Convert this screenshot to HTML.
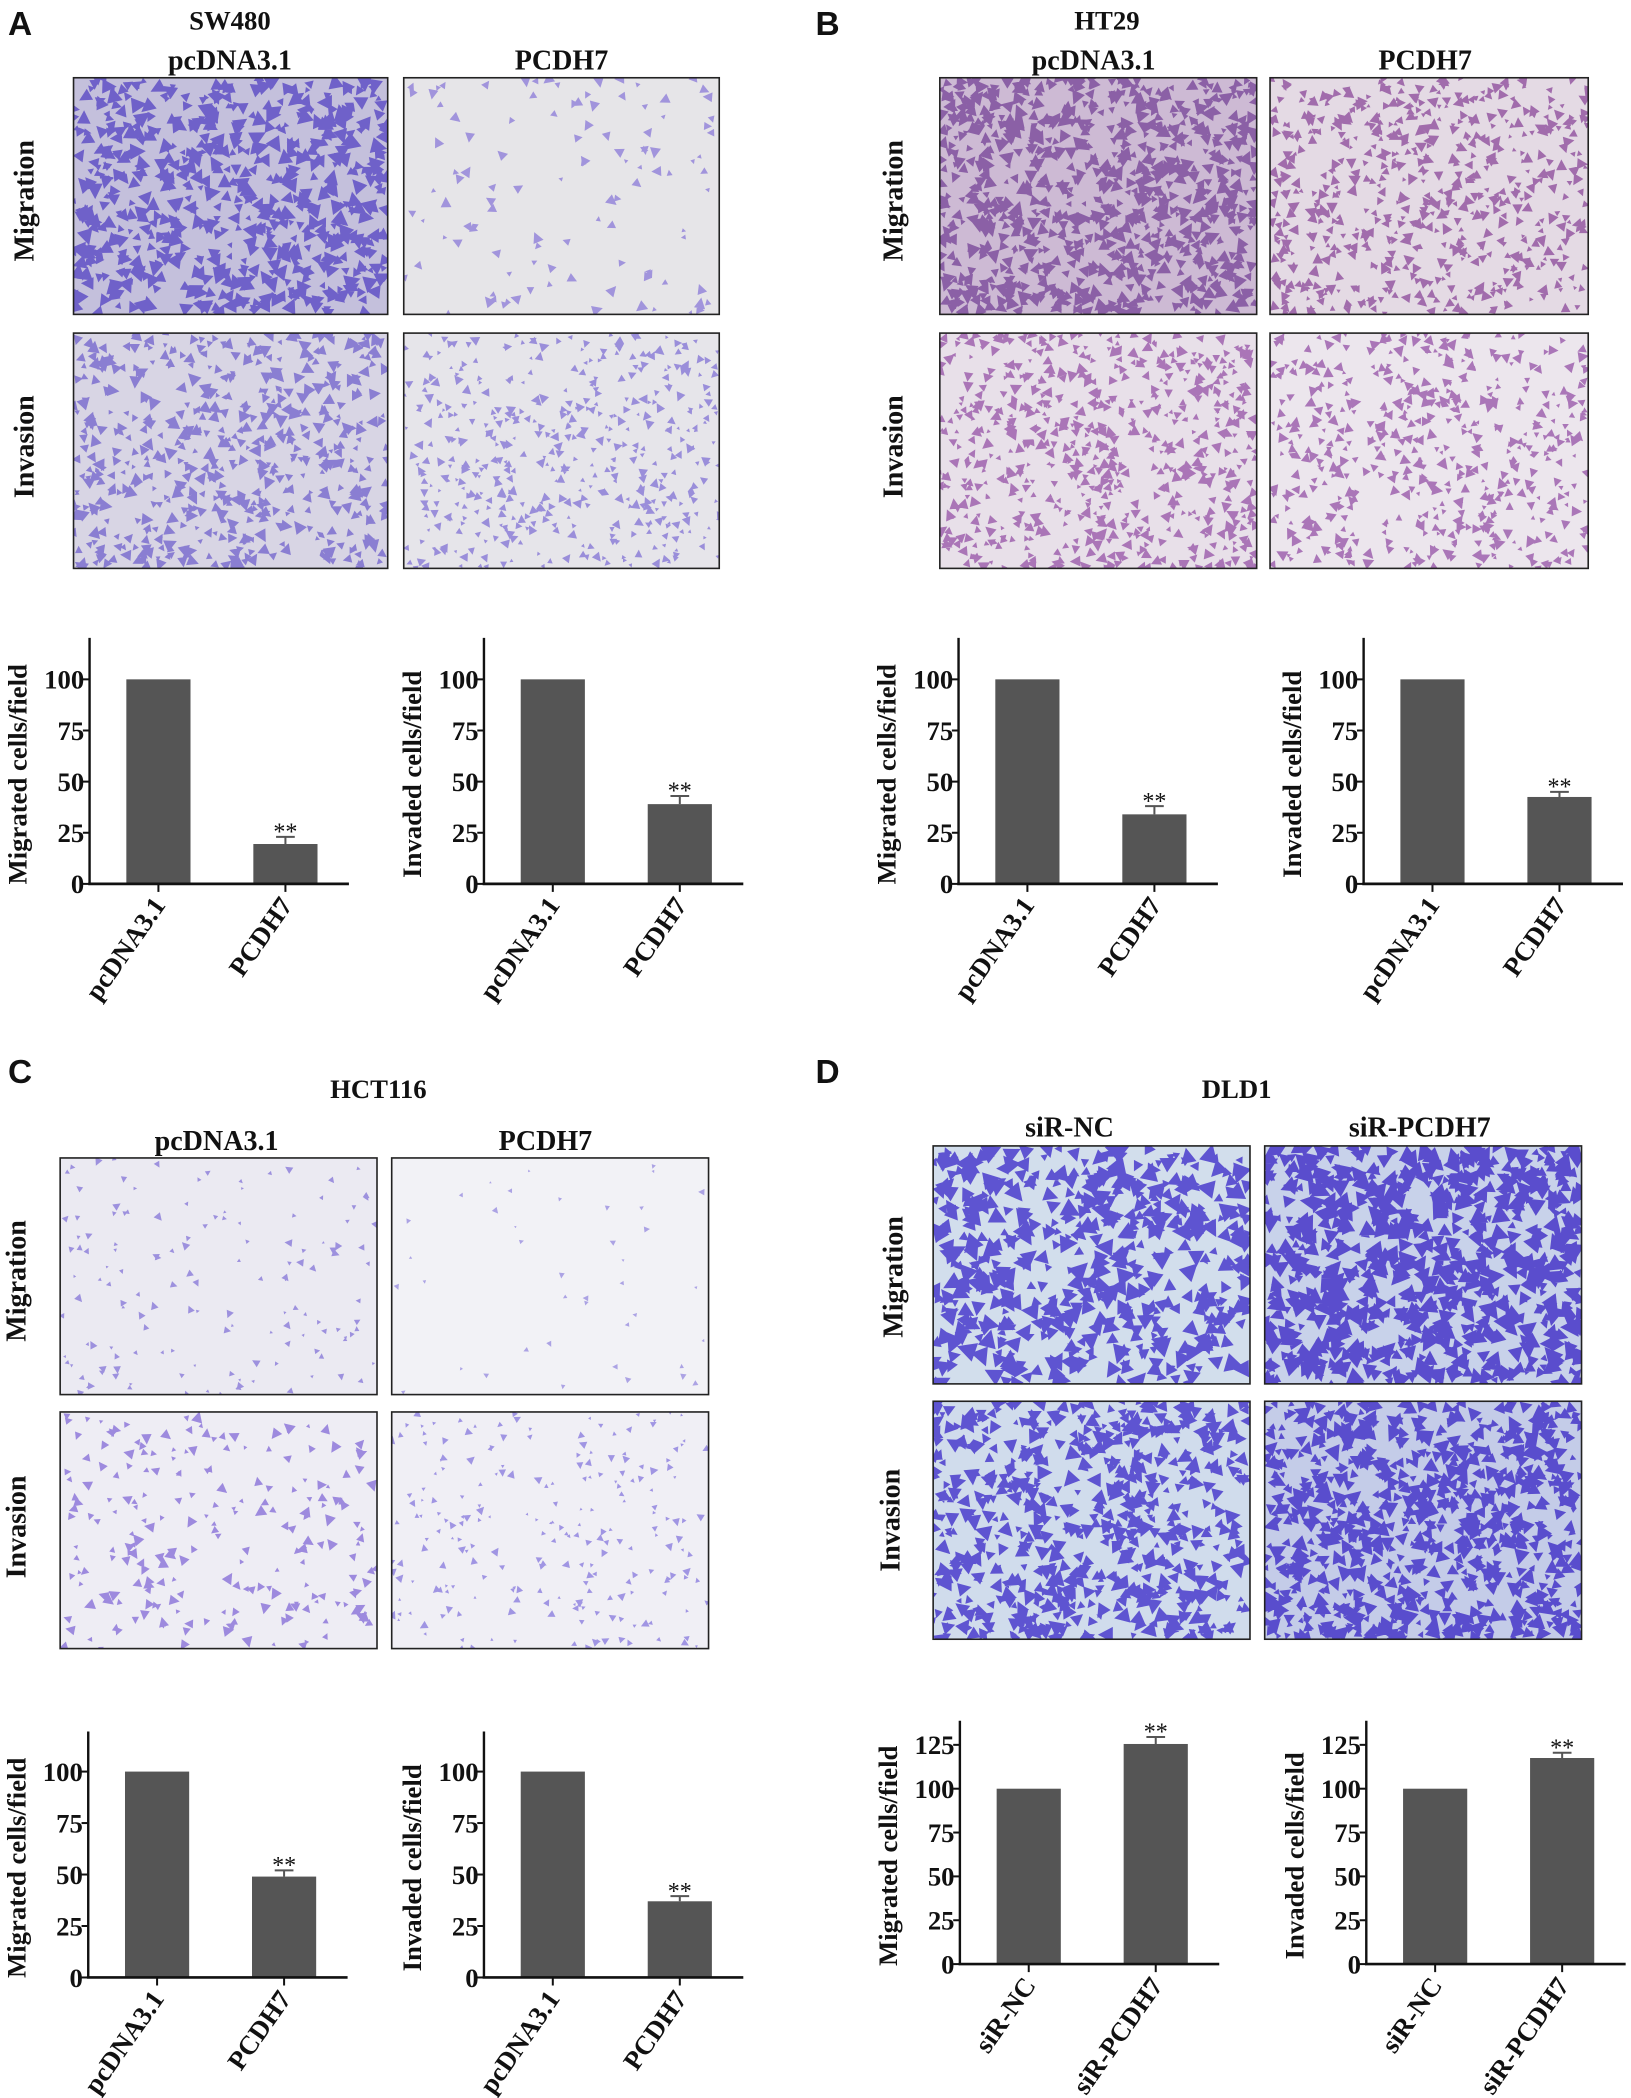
<!DOCTYPE html>
<html><head><meta charset="utf-8"><style>
html,body{margin:0;padding:0;background:#fff}
svg{display:block}
text{font-family:"Liberation Serif",serif;font-weight:bold;fill:#111}
.lt{font-family:"Liberation Sans",sans-serif;font-weight:bold}
</style></head><body>
<svg id="fig" width="1631" height="2098" viewBox="0 0 1220 1569" xmlns="http://www.w3.org/2000/svg">
<g id="static">
<text class="lt" x="6" y="26" font-size="25">A</text>
<text class="lt" x="610" y="26" font-size="25">B</text>
<text class="lt" x="6" y="810" font-size="25">C</text>
<text class="lt" x="610" y="810" font-size="25">D</text>
<text x="172" y="22" font-size="20" text-anchor="middle">SW480</text>
<text x="828" y="22" font-size="20" text-anchor="middle">HT29</text>
<text x="283" y="821" font-size="20" text-anchor="middle">HCT116</text>
<text x="925" y="821" font-size="20" text-anchor="middle">DLD1</text>
<text x="172" y="52" font-size="21" text-anchor="middle">pcDNA3.1</text>
<text x="420" y="52" font-size="21" text-anchor="middle">PCDH7</text>
<text x="818" y="52" font-size="21" text-anchor="middle">pcDNA3.1</text>
<text x="1066" y="52" font-size="21" text-anchor="middle">PCDH7</text>
<text x="162" y="860" font-size="21" text-anchor="middle">pcDNA3.1</text>
<text x="408" y="860" font-size="21" text-anchor="middle">PCDH7</text>
<text x="800" y="850" font-size="21" text-anchor="middle">siR-NC</text>
<text x="1062" y="850" font-size="21" text-anchor="middle">siR-PCDH7</text>
<text transform="translate(25,150) rotate(-90)" font-size="21" text-anchor="middle">Migration</text>
<text transform="translate(25,334) rotate(-90)" font-size="21" text-anchor="middle">Invasion</text>
<text transform="translate(675,150) rotate(-90)" font-size="21" text-anchor="middle">Migration</text>
<text transform="translate(675,334) rotate(-90)" font-size="21" text-anchor="middle">Invasion</text>
<text transform="translate(19,958) rotate(-90)" font-size="21" text-anchor="middle">Migration</text>
<text transform="translate(19,1142) rotate(-90)" font-size="21" text-anchor="middle">Invasion</text>
<text transform="translate(675,955) rotate(-90)" font-size="21" text-anchor="middle">Migration</text>
<text transform="translate(673,1137) rotate(-90)" font-size="21" text-anchor="middle">Invasion</text>
</g>
<g id="imgs"></g>
<g id="charts"></g>
</svg>
<script>
// ---- chart data ----
const catsOE = ["pcDNA3.1", "PCDH7"];
const catsKD = ["siR-NC", "siR-PCDH7"];
const ticksOE = [0, 25, 50, 75, 100];
const ticksKD = [0, 25, 50, 75, 100, 125];
const swMigVals = [100, 19.5];
const swMigErr = [0, 3.5];
const swInvVals = [100, 39];
const swInvErr = [0, 4];
const htMigVals = [100, 34];
const htMigErr = [0, 4];
const htInvVals = [100, 42.5];
const htInvErr = [0, 2.5];
const hcMigVals = [100, 49];
const hcMigErr = [0, 3];
const hcInvVals = [100, 37];
const hcInvErr = [0, 2.5];
const dlMigVals = [100, 125.5];
const dlMigErr = [0, 4];
const dlInvVals = [100, 117.5];
const dlInvErr = [0, 3];
const sigMarks = ["", "**"];

const NS = "http://www.w3.org/2000/svg";
function mk(tag, attrs, parent) {
  const e = document.createElementNS(NS, tag);
  for (const k in attrs) e.setAttribute(k, attrs[k]);
  parent.appendChild(e);
  return e;
}
const chartsG = document.getElementById('charts');

function chart(id, ax, base, top, pxPer, ticks, yMax, cats, vals, errs, ytitle) {
  const g = mk('g', {}, chartsG);
  
  
  const y = v => base - v * pxPer;
  const step = 95, start = ax + 4;
  const xc = i => start + step * (i + 0.5);
  const bw = 48;
  vals.forEach((v, i) => {
    const b = mk('rect', {x: xc(i) - bw / 2, y: y(v), width: bw, height: base - y(v), fill: '#555555'}, g);
    
    
    if (errs[i] > 0) {
      const e = mk('path', {d: `M${xc(i)} ${y(v)}V${y(v + errs[i])}M${xc(i) - 7} ${y(v + errs[i])}H${xc(i) + 7}`, stroke: '#555', 'stroke-width': 1.5, fill: 'none'}, g);
      
      
    }
    if (sigMarks[i]) {
      const s = mk('text', {x: xc(i), y: y(v + errs[i]) + 2, 'text-anchor': 'middle', 'font-size': 18, style: 'font-weight:normal'}, g);
      s.textContent = sigMarks[i];
      
      
    }
    const xt = mk('line', {x1: xc(i), x2: xc(i), y1: base, y2: base + 6, stroke: '#111', 'stroke-width': 1.5}, g);
    
    
    const lx = xc(i) + 6, ly = base + 16;
    const xl = mk('text', {transform: `translate(${lx},${ly}) rotate(-55)`, 'text-anchor': 'end', 'font-size': 20}, g);
    xl.textContent = cats[i];
    
    
  });
  const ya = mk('line', {x1: ax, x2: ax, y1: top, y2: base, stroke: '#111', 'stroke-width': 1.8}, g);
  
  
  const xa = mk('line', {x1: ax - 1, x2: ax + 194, y1: base, y2: base, stroke: '#111', 'stroke-width': 2}, g);
  
  
  ticks.forEach(t => {
    const tl = mk('line', {x1: ax - 5, x2: ax, y1: y(t), y2: y(t), stroke: '#111', 'stroke-width': 1.5}, g);
    
    
    const tt = mk('text', {x: ax - 4, y: y(t) + 7, 'text-anchor': 'end', 'font-size': 20}, g);
    tt.textContent = t;
    
    
  });
  const yt = mk('text', {transform: `translate(${ax - 47},${(top + base) / 2 + 10}) rotate(-90)`, 'text-anchor': 'middle', 'font-size': 20}, g);
  yt.textContent = ytitle;
  
  
}
const pOE = 38.25 / 25;
chart('chart-sw480-migration', 67, 661, 477, pOE, ticksOE, 120, catsOE, swMigVals, swMigErr, 'Migrated cells/field');
chart('chart-sw480-invasion', 362, 661, 477, pOE, ticksOE, 120, catsOE, swInvVals, swInvErr, 'Invaded cells/field');
chart('chart-ht29-migration', 717, 661, 477, pOE, ticksOE, 120, catsOE, htMigVals, htMigErr, 'Migrated cells/field');
chart('chart-ht29-invasion', 1020, 661, 477, pOE, ticksOE, 120, catsOE, htInvVals, htInvErr, 'Invaded cells/field');
const pC = 38.5 / 25;
chart('chart-hct116-migration', 66, 1479, 1295, pC, ticksOE, 120, catsOE, hcMigVals, hcMigErr, 'Migrated cells/field');
chart('chart-hct116-invasion', 362, 1479, 1295, pC, ticksOE, 120, catsOE, hcInvVals, hcInvErr, 'Invaded cells/field');
const pD = 32.8 / 25;
chart('chart-dld1-migration', 718, 1469, 1287, pD, ticksKD, 140, catsKD, dlMigVals, dlMigErr, 'Migrated cells/field');
chart('chart-dld1-invasion', 1022, 1469, 1287, pD, ticksKD, 140, catsKD, dlInvVals, dlInvErr, 'Invaded cells/field');

// ---- micrograph textures (decorative) ----
const imgsG = document.getElementById('imgs');
let seed = 7;
function rnd() { seed = (seed * 16807) % 2147483647; return seed / 2147483647; }
function micro(name, x, y, w, h, bg, fg, n, r, op) {
  const g = mk('g', {}, imgsG);
  
  
  const cid = 'c' + name;
  const cp = mk('clipPath', {id: cid}, g);
  mk('rect', {x: x, y: y, width: w, height: h}, cp);
  mk('rect', {x: x, y: y, width: w, height: h, fill: bg}, g);
  const inner = mk('g', {'clip-path': `url(#${cid})`}, g);
  let d = '';
  for (let i = 0; i < n; i++) {
    const cx = x + rnd() * w, cy = y + rnd() * h;
    const rr = r * (0.5 + rnd());
    const a = rnd() * 6.28;
    d += `M${(cx + rr * Math.cos(a)).toFixed(1)} ${(cy + rr * Math.sin(a)).toFixed(1)}L${(cx + rr * Math.cos(a + 2.2)).toFixed(1)} ${(cy + rr * Math.sin(a + 2.2)).toFixed(1)}L${(cx + rr * Math.cos(a + 4.1)).toFixed(1)} ${(cy + rr * Math.sin(a + 4.1)).toFixed(1)}Z`;
  }
  mk('path', {d: d, fill: fg, opacity: op}, inner);
  mk('rect', {x: x, y: y, width: w, height: h, fill: 'none', stroke: '#222', 'stroke-width': 1.2}, g);
}
micro('sw480-mig-pcdna', 55, 58, 235, 177, '#c4c0dc', '#5a48c4', 650, 5, 0.8);
micro('sw480-mig-pcdh7', 302, 58, 236, 177, '#e6e5e8', '#9080d8', 110, 3.5, 0.8);
micro('sw480-inv-pcdna', 55, 249, 235, 176, '#d8d5e4', '#7060cc', 550, 4, 0.75);
micro('sw480-inv-pcdh7', 302, 249, 236, 176, '#e6e5ea', '#8070d4', 450, 3, 0.75);
micro('ht29-mig-pcdna', 703, 58, 237, 177, '#cdbad4', '#7a4a9a', 850, 4.5, 0.8);
micro('ht29-mig-pcdh7', 950, 58, 238, 177, '#e4dae4', '#90509e', 600, 3.5, 0.8);
micro('ht29-inv-pcdna', 703, 249, 237, 176, '#e8e0e9', '#9a5aaa', 650, 3.5, 0.8);
micro('ht29-inv-pcdh7', 950, 249, 238, 176, '#ece6ed', '#9a5aaa', 500, 3.5, 0.8);
micro('hct116-mig-pcdna', 45, 866, 237, 177, '#ebeaf2', '#8a7ad8', 140, 2.5, 0.8);
micro('hct116-mig-pcdh7', 293, 866, 237, 177, '#f2f2f6', '#9a8ee0', 40, 2, 0.8);
micro('hct116-inv-pcdna', 45, 1056, 237, 177, '#eeedf4', '#8870d8', 220, 3.5, 0.8);
micro('hct116-inv-pcdh7', 293, 1056, 237, 177, '#f0eff5', '#8c7ede', 220, 2.5, 0.8);
micro('dld1-mig-sinc', 698, 857, 237, 178, '#d2deec', '#4a3ccc', 520, 6, 0.85);
micro('dld1-mig-sipcdh7', 946, 857, 237, 178, '#c8d2ea', '#4636c8', 750, 6, 0.85);
micro('dld1-inv-sinc', 698, 1048, 237, 178, '#d0dcec', '#4a3ccc', 650, 5, 0.85);
micro('dld1-inv-sipcdh7', 946, 1048, 237, 178, '#c4cce8', '#4636c8', 800, 5, 0.85);
</script>
</body></html>
